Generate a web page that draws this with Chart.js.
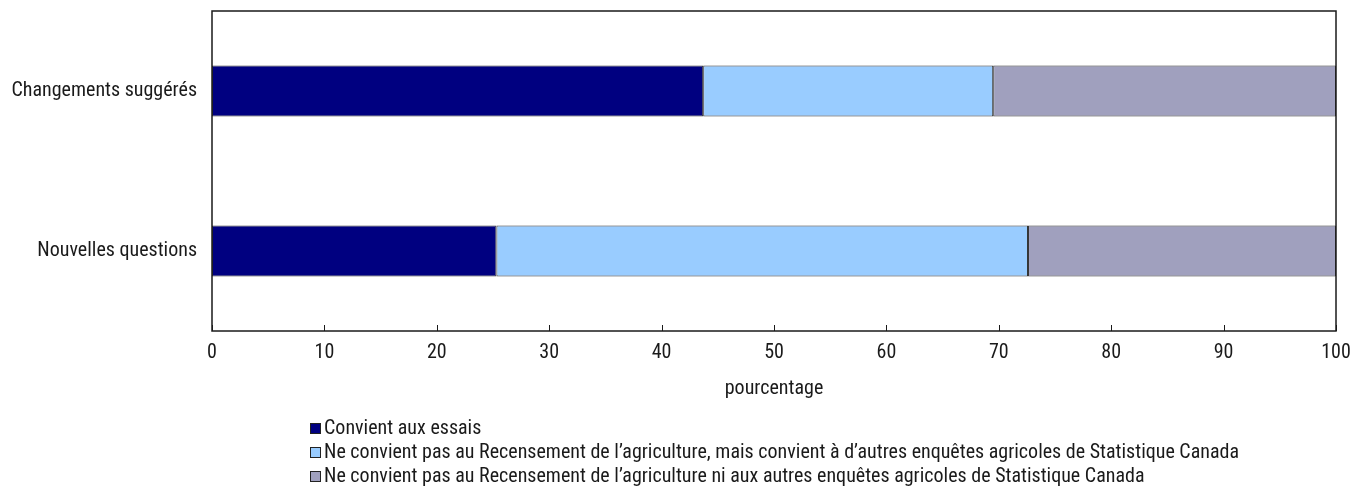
<!DOCTYPE html>
<html>
<head>
<meta charset="utf-8">
<script src="https://cdn.jsdelivr.net/npm/chart.js@4/dist/chart.umd.min.js"></script>
<style>
  html, body { margin: 0; padding: 0; background: #fff; }
  #wrap { position: relative; width: 1359px; height: 494px; overflow: hidden; }
  #c { position: absolute; left: 0; top: 0; }
  #legend { position: absolute; left: 310px; top: 415px; font-family: Roboto, sans-serif; font-stretch: condensed; font-size: 20px; color: #1a1a1a; }
  #legend div { height: 24px; line-height: 24px; white-space: nowrap; display: flex; align-items: center; }
  #legend span.sw { display: inline-block; box-sizing: border-box; width: 11px; height: 11px; border: 1px solid #222; margin-right: 3px; margin-top: 2px; }
</style>
</head>
<body>
<div id="wrap">
  <canvas id="c" width="1359" height="494"></canvas>
  <div id="legend"></div>
</div>
<script>
const categories = ['Changements suggérés', 'Nouvelles questions'];
const seriesNames = [
  'Convient aux essais',
  'Ne convient pas au Recensement de l’agriculture, mais convient à d’autres enquêtes agricoles de Statistique Canada',
  'Ne convient pas au Recensement de l’agriculture ni aux autres enquêtes agricoles de Statistique Canada'
];
const convientEssais = [43.7, 25.3];
const autresEnquetes = [25.8, 47.3];
const neConvientPas = [30.5, 27.4];
const xTicks = [0, 10, 20, 30, 40, 50, 60, 70, 80, 90, 100];
const axisTitle = 'pourcentage';
const colors = ['#000080', '#99CCFF', '#A0A0BE'];

const FONT = { family: 'Roboto, sans-serif', weight: 'condensed', size: 20, lineHeight: 1.2 };

const frame = {
  id: 'frame',
  afterDraw(chart) {
    const { ctx, chartArea: a, scales } = chart;
    ctx.save();
    ctx.strokeStyle = '#1a1a1a';
    ctx.lineWidth = 1;
    ctx.beginPath();
    xTicks.forEach(v => {
      const x = Math.round(scales.x.getPixelForValue(v)) + 0.5;
      ctx.moveTo(x, a.bottom);
      ctx.lineTo(x, a.bottom - 6);
    });
    ctx.stroke();
    ctx.lineWidth = 1.5;
    ctx.strokeRect(a.left, a.top, a.right - a.left, a.bottom - a.top);
    ctx.restore();
  }
};

const data = {
  labels: categories,
  datasets: [convientEssais, autresEnquetes, neConvientPas].map((d, i) => ({
    label: seriesNames[i],
    data: d,
    backgroundColor: colors[i],
    borderColor: '#333',
    borderWidth: 1,
    borderSkipped: false,
    barPercentage: 0.32,
    categoryPercentage: 1
  }))
};

new Chart(document.getElementById('c'), {
  type: 'bar',
  data,
  options: {
    indexAxis: 'y',
    responsive: false,
    animation: false,
    layout: { padding: { top: 11, right: 23, bottom: 93, left: 0 } },
    plugins: { legend: { display: false }, tooltip: { enabled: false } },
    scales: {
      x: {
        stacked: true, min: 0, max: 100,
        afterBuildTicks(s) { s.ticks = xTicks.map(v => ({ value: v })); },
        afterFit(s) { s.height = 70; s.paddingLeft = 0; s.paddingRight = 0; },
        grid: { display: false, drawTicks: false },
        border: { display: false },
        ticks: { padding: 10, color: '#1a1a1a', font: FONT },
        title: { display: true, text: axisTitle, color: '#1a1a1a', padding: { top: 0, bottom: 0 }, font: FONT }
      },
      y: {
        stacked: true,
        afterFit(s) { s.width = 212; s.paddingTop = 0; s.paddingBottom = 0; },
        grid: { display: false, drawTicks: false },
        border: { display: false },
        ticks: { padding: 15, color: '#1a1a1a', font: FONT }
      }
    }
  },
  plugins: [frame]
});

const lg = document.getElementById('legend');
seriesNames.forEach((n, i) => {
  const row = document.createElement('div');
  const sw = document.createElement('span');
  sw.className = 'sw';
  sw.style.background = colors[i];
  row.appendChild(sw);
  row.appendChild(document.createTextNode(n));
  lg.appendChild(row);
});
// centre the legend block under the plot area
const plotCentre = (212 + 1336) / 2;
lg.style.left = Math.round(plotCentre - lg.offsetWidth / 2) + 'px';
</script>
</body>
</html>
